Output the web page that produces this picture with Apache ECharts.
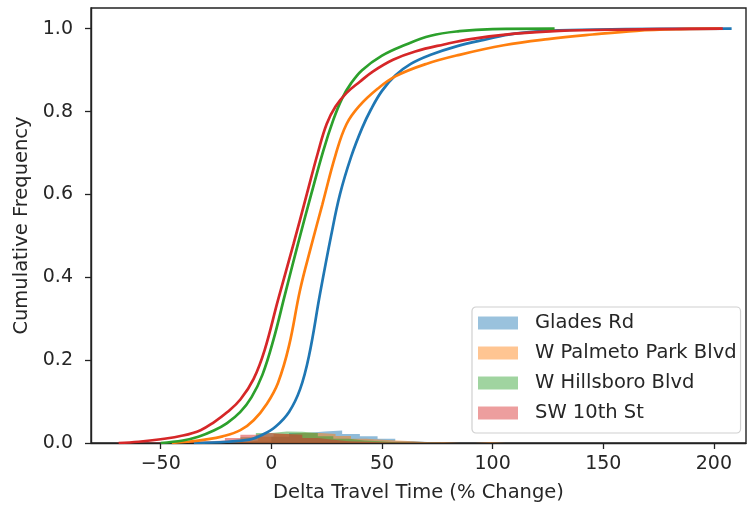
<!DOCTYPE html>
<html><head><meta charset="utf-8">
<script src="https://cdn.jsdelivr.net/npm/echarts@6/dist/echarts.min.js"></script>
<style>html,body{margin:0;padding:0;background:#fff}#c{width:751px;height:505px}</style>
</head><body><div id="c"></div>
<script>
// ---- data ----
const seriesNames = ["Glades Rd", "W Palmeto Park Blvd", "W Hillsboro Blvd", "SW 10th St"];
const xTicks = [-50, 0, 50, 100, 150, 200];
const yTicks = [0, 0.2, 0.4, 0.6, 0.8, 1.0];

// cumulative curves (x = % change, F = cumulative frequency)
const gladesX = [-35, -20, -10, -4, 2, 8, 13, 17, 22, 27, 31, 36, 41, 45, 50, 56, 63, 72, 84, 96, 110, 130, 160, 208];
const gladesF = [0, 0.003, 0.008, 0.02, 0.04, 0.075, 0.13, 0.21, 0.36, 0.5, 0.6, 0.69, 0.76, 0.805, 0.85, 0.887, 0.915, 0.937, 0.958, 0.973, 0.988, 0.996, 0.999, 1.0];
const palmetoX = [-45, -38, -30, -22, -14, -8, -2, 3, 8, 13, 18, 23, 29, 34, 40, 48, 56, 70, 85, 105, 125, 145, 165, 185, 203];
const palmetoF = [0, 0.003, 0.008, 0.016, 0.031, 0.055, 0.095, 0.145, 0.235, 0.37, 0.475, 0.575, 0.695, 0.77, 0.815, 0.855, 0.885, 0.915, 0.937, 0.96, 0.975, 0.986, 0.995, 0.999, 1.0];
const hillsboroX = [-50, -40, -33, -26, -20, -14, -9, -4, 1, 6, 12, 18, 23.5, 28, 32, 36, 41, 50, 60, 72, 85, 100, 128];
const hillsboroF = [0, 0.006, 0.015, 0.03, 0.048, 0.075, 0.11, 0.165, 0.25, 0.355, 0.48, 0.6, 0.706, 0.78, 0.832, 0.868, 0.9, 0.935, 0.96, 0.983, 0.994, 0.999, 1.0];
const sw10X = [-69, -60, -50, -40, -32, -26, -20, -14, -8, -3, 3, 10, 16, 21, 25, 29, 34, 40, 46, 55, 65, 78, 90, 110, 130, 160, 204];
const sw10F = [0, 0.003, 0.009, 0.018, 0.031, 0.05, 0.074, 0.105, 0.155, 0.225, 0.345, 0.48, 0.6, 0.7, 0.77, 0.812, 0.845, 0.872, 0.897, 0.925, 0.945, 0.962, 0.975, 0.988, 0.995, 0.998, 1.0];

// histograms (bin edges and density heights)
const gladesEdges = [-8, 0, 8, 16, 24, 32, 40, 48, 56, 64, 72, 80];
const gladesHist = [0.003, 0.015, 0.024, 0.028, 0.03, 0.022, 0.016, 0.01, 0.005, 0.002, 0.001];
const palmetoEdges = [-27, -20, -13, -6, 1, 8, 15, 22, 29, 36, 43, 50, 57, 64, 71, 78, 85, 92, 99, 106, 113];
const palmetoHist = [0.001, 0.002, 0.006, 0.015, 0.022, 0.025, 0.024, 0.022, 0.017, 0.01, 0.008, 0.006, 0.004, 0.002, 0.002, 0, 0, 0.002, 0, 0.002];
const hillsboroEdges = [-35, -28, -21, -14, -7, 0, 7, 14, 21, 28, 35, 42, 49, 56, 63, 70, 77];
const hillsboroHist = [0.001, 0.003, 0.006, 0.014, 0.024, 0.028, 0.027, 0.024, 0.016, 0.01, 0.006, 0.004, 0.002, 0.001, 0.001, 0.001];
const sw10Edges = [-70, -63, -56, -49, -42, -35, -28, -21, -14, -7, 0, 7, 14, 21, 28, 35, 42, 49, 56, 63, 70, 77];
const sw10Hist = [0.001, 0.001, 0.001, 0.002, 0.003, 0.004, 0.006, 0.012, 0.02, 0.024, 0.022, 0.02, 0.012, 0.008, 0.004, 0.003, 0.002, 0.001, 0.001, 0.001, 0.002];

// ---- styling ----
const colors = ["#1f77b4", "#ff7f0e", "#2ca02c", "#d62728"];
const legendColors = ["rgba(31,119,180,0.45)", "rgba(255,127,14,0.45)", "rgba(44,160,44,0.45)", "rgba(214,39,40,0.45)"];
const FONT = "DejaVu Sans";
const TXT = '#262626';

const curves = [[gladesX, gladesF], [palmetoX, palmetoF], [hillsboroX, hillsboroF], [sw10X, sw10F]];
const hists = [[gladesEdges, gladesHist], [palmetoEdges, palmetoHist], [hillsboroEdges, hillsboroHist], [sw10Edges, sw10Hist]];

const series = [];
hists.forEach(([edges, h], i) => {
  const data = edges.map((e, k) => [e, k < h.length ? h[k] : 0]);
  series.push({
    name: seriesNames[i], type: 'line', step: 'end', data,
    showSymbol: false, symbol: 'none', silent: true,
    lineStyle: { width: 0, color: colors[i] },
    itemStyle: { color: legendColors[i] },
    areaStyle: { color: colors[i], opacity: 0.5 },
    z: 1
  });
});
curves.forEach(([xs, fs], i) => {
  series.push({
    name: seriesNames[i] + ' cdf', type: 'line', data: xs.map((x, k) => [x, fs[k]]),
    smooth: 0.4, showSymbol: false, symbol: 'none',
    lineStyle: { width: 2.7, color: colors[i] }, itemStyle: { color: colors[i] },
    z: 3
  });
});

const chart = echarts.init(document.getElementById('c'), null, { renderer: 'canvas' });
chart.setOption({
  animation: false,
  backgroundColor: '#fff',
  textStyle: { fontFamily: FONT },
  grid: { left: 91, right: 5, top: 8, bottom: 62, containLabel: false, outerBoundsMode: 'none',
    show: true, borderColor: '#222', borderWidth: 1.4, backgroundColor: 'transparent' },
  legend: {
    orient: 'vertical', left: 472, top: 307,
    data: seriesNames.map((n, i) => ({ name: n, icon: 'rect', itemStyle: { color: legendColors[i] } })),
    itemWidth: 40, itemHeight: 13, itemGap: 10,
    padding: [6, 4, 10, 6],
    backgroundColor: '#fff', borderColor: '#d0d0d0', borderWidth: 1.2, borderRadius: 4,
    textStyle: { fontFamily: FONT, fontSize: 19.5, color: TXT, padding: [0, 0, 0, 12] },
    selectedMode: false
  },
  xAxis: {
    type: 'value', min: -81.5, max: 214.5,
    name: 'Delta Travel Time (% Change)', nameLocation: 'middle', nameGap: 40,
    nameTextStyle: { fontFamily: FONT, fontSize: 19.5, color: TXT },
    axisLine: { show: true, onZero: false, lineStyle: { color: '#222', width: 1.4 } },
    axisTick: { show: true, length: 6, customValues: xTicks, lineStyle: { color: '#222', width: 1.3 } },
    axisLabel: { customValues: xTicks, fontFamily: FONT, fontSize: 19, color: TXT, margin: 12,
      formatter: v => (v < 0 ? '\u2212' + Math.abs(v) : String(v)) },
    splitLine: { show: false }
  },
  yAxis: {
    type: 'value', min: 0, max: 1.05,
    name: 'Cumulative Frequency', nameLocation: 'middle', nameGap: 57, nameRotate: 90,
    nameTextStyle: { fontFamily: FONT, fontSize: 19.5, color: TXT },
    axisLine: { show: true, onZero: false, lineStyle: { color: '#222', width: 1.4 } },
    axisTick: { show: true, length: 6, customValues: yTicks, lineStyle: { color: '#222', width: 1.3 } },
    axisLabel: { customValues: yTicks, fontFamily: FONT, fontSize: 19, color: TXT, margin: 18,
      formatter: v => v.toFixed(1) },
    splitLine: { show: false }
  },
  series
});
</script>
</body></html>
